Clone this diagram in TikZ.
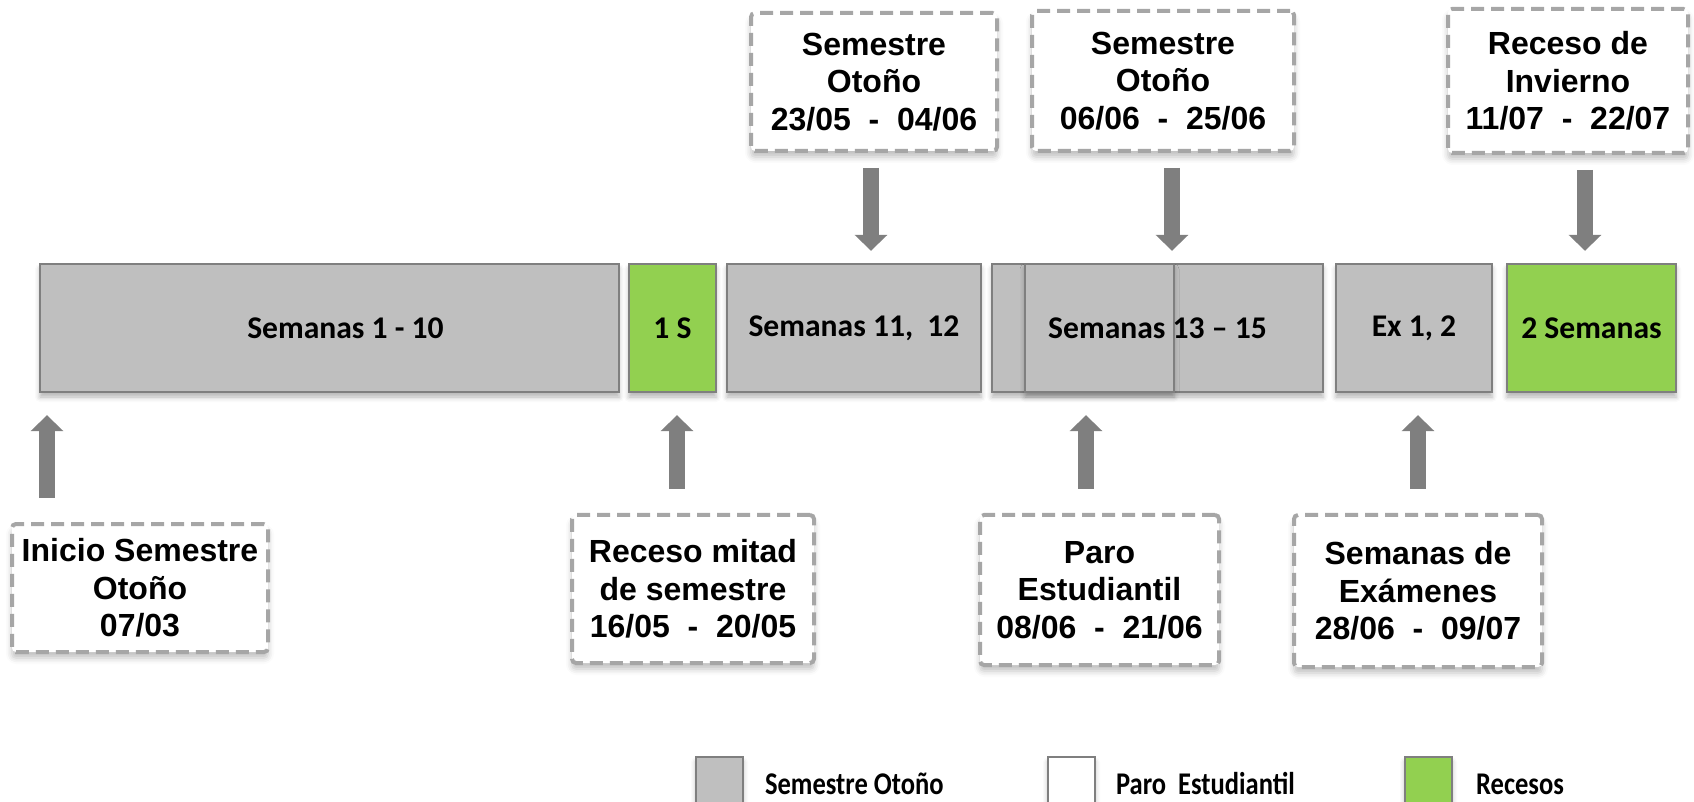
\documentclass[tikz,border=0pt]{standalone}
\usepackage{fontspec}
\setmainfont{Carlito}
\newfontfamily\calloutfont{Liberation Sans}
\newfontfamily\legendfont[FakeStretch=0.84]{Carlito}
\usetikzlibrary{arrows.meta,shadows.blur}

\definecolor{weekgray}{HTML}{BFBFBF}
\definecolor{edgegray}{HTML}{7F7F7F}
\definecolor{recessgreen}{HTML}{92D050}
\definecolor{dashgray}{HTML}{A6A6A6}

\tikzset{
  week/.style={draw=edgegray, line width=1.2pt, fill=weekgray, minimum height=64pt,
    inner sep=0pt, font=\bfseries\fontsize{15.8}{18}\selectfont,
    blur shadow={shadow xshift=0pt, shadow yshift=-2.5pt, shadow blur radius=2.5pt, shadow opacity=30}},
  recess/.style={week, fill=recessgreen},
  callout/.style={draw=dashgray, dash pattern=on 6.5pt off 3.5pt, line width=2pt, fill=white,
    rounded corners=2pt, align=center, inner sep=0pt,
    font=\calloutfont\bfseries\fontsize{16}{18.8}\selectfont,
    blur shadow={shadow xshift=0pt, shadow yshift=-3pt, shadow blur radius=3pt, shadow opacity=25}},
  blockarrow/.style={draw=edgegray, line width=8pt, -{Triangle[width=16pt,length=8pt]}},
  legendtext/.style={anchor=base west, font=\legendfont\bfseries\fontsize{15.8}{18}\selectfont}
}

\begin{document}
\begin{tikzpicture}[x=0.5pt, y=-0.5pt]
    \useasboundingbox (0,0) rectangle (1694,802);

    % Weeks
    \node[week, minimum width=289.5pt] (sem1) at (329.5,328) {\hspace*{16pt}Semanas 1 - 10};
    \node[recess, minimum width=43.5pt] (rec1) at (672.5,328) {1 S};
    \node[week, minimum width=127pt] (sem2) at (854,328) {Semanas 11,~~12};
    \node[week, minimum width=165.5pt] (sem3) at (1157.5,328) {};
    \node[week, minimum width=74.5pt] (paroov) at (1099.5,328) {};
    \node[font=\bfseries\fontsize{15.8}{18}\selectfont] (sem3txt) at (sem3) {Semanas 13 – 15};
    \node[week, minimum width=78pt] (exa) at (1414,328) {Ex 1, 2};
    \node[recess, minimum width=84.5pt] (rec2) at (1591.5,328) {2 Semanas};

    % Callouts below
    \node[callout, minimum width=128pt, minimum height=64pt] (inicio) at (140,588) {Inicio Semestre\\Otoño\\07/03};
    \node[callout, minimum width=121pt, minimum height=74pt] (mitad) at (693,589) {Receso mitad\\de semestre\\16/05~~-~~20/05};
    \node[callout, minimum width=119.5pt, minimum height=75pt] (paro) at (1099.5,590) {Paro\\Estudiantil\\08/06~~-~~21/06};
    \node[callout, minimum width=124pt, minimum height=76pt] (exam) at (1418,591) {Semanas de\\Exámenes\\28/06~~-~~09/07};

    % Callouts above
    \node[callout, minimum width=123pt, minimum height=69pt] (otono1) at (874,82) {Semestre\\Otoño\\23/05~~-~~04/06};
    \node[callout, minimum width=131pt, minimum height=70pt] (otono2) at (1163,81) {Semestre\\Otoño\\06/06~~-~~25/06};
    \node[callout, minimum width=120pt, minimum height=72pt] (invierno) at (1568,81) {Receso de\\Invierno\\11/07~~-~~22/07};

    % Arrows
    \foreach \ax/\from/\to in {47/inicio/sem1, 677/mitad/rec1, 1086/paro/paroov, 1418/exam/exa} {
        \coordinate (ax) at (\ax,0);
        \draw[blockarrow, shorten <=12pt, shorten >=11pt] (\from.north -| ax) -- (\to.south -| ax);
    }
    \foreach \ax/\from/\to in {871/otono1/sem2, 1172/otono2/sem3, 1585/invierno/rec2} {
        \coordinate (ax) at (\ax,0);
        \draw[blockarrow, shorten <=7.5pt, shorten >=6pt] (\from.south -| ax) -- (\to.north -| ax);
    }

    % Legend
    \node[week, anchor=north, minimum width=23.5pt, minimum height=30pt] (legsem) at (719.5,756) {};
    \node[legendtext] (legsemtxt) at (758,794) {Semestre Otoño};
    \node[week, fill=white, anchor=north, minimum width=23.5pt, minimum height=30pt] (legparo) at (1071.5,756) {};
    \node[legendtext] (legparotxt) at (1109,794) {Paro~~Estudiantil};
    \node[recess, anchor=north, minimum width=23.5pt, minimum height=30pt] (legrec) at (1428.5,756) {};
    \node[legendtext] (legrectxt) at (1469,794) {Recesos};
\end{tikzpicture}
\end{document}
